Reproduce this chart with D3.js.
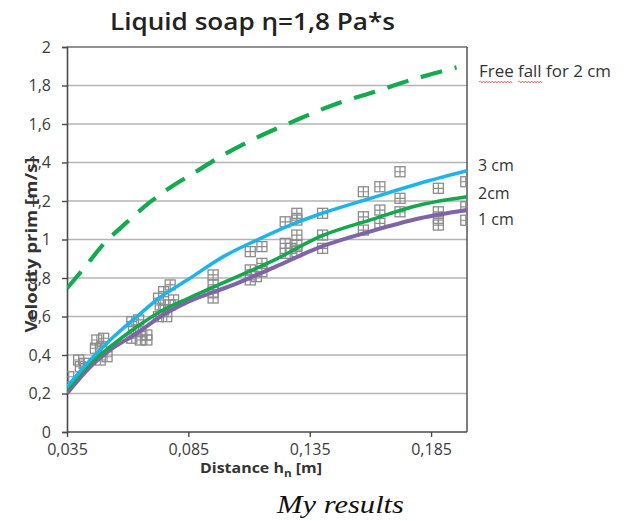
<!DOCTYPE html>
<html><head><meta charset="utf-8">
<script src="https://cdn.jsdelivr.net/npm/d3@7"></script>
<style>body{margin:0;background:#fff}svg{display:block}</style>
</head><body>
<script>
// ---- data ----
const xTicks = [0.035, 0.085, 0.135, 0.185];
const yTicks = [0, 0.2, 0.4, 0.6, 0.8, 1, 1.2, 1.4, 1.6, 1.8, 2];

const freeFallX = [0.035,0.0425,0.050,0.0597,0.0693,0.0775,0.0871,0.0981,0.110,0.128,0.1447,0.1619,0.179,0.1955];
const freeFallY = [0.746,0.859,0.975,1.09,1.195,1.270,1.344,1.43,1.51,1.612,1.699,1.768,1.837,1.894];

const cm3X = [0.035,0.0446,0.0528,0.0638,0.0734,0.085,0.0994,0.1132,0.127,0.142,0.1598,0.1804,0.1997];
const cm3Y = [0.235,0.374,0.478,0.600,0.700,0.793,0.911,0.997,1.075,1.144,1.213,1.292,1.357];

const cm2X = [0.035,0.0446,0.0528,0.0638,0.0734,0.085,0.1035,0.121,0.1392,0.1598,0.1804,0.1997];
const cm2Y = [0.218,0.357,0.443,0.547,0.625,0.695,0.798,0.897,1.015,1.101,1.179,1.222];

const cm1X = [0.035,0.0446,0.0528,0.0638,0.0734,0.085,0.1035,0.121,0.1392,0.1598,0.1804,0.1997];
const cm1Y = [0.200,0.339,0.426,0.513,0.599,0.677,0.764,0.859,0.960,1.041,1.110,1.153];

const markerX = [0.0357,0.0398,0.0421,0.0405,
  0.0473,0.0501,0.0467,0.0494,0.0515,0.0487,
  0.0617,0.0645,0.0624,0.0652,0.0679,0.0679,0.0652,0.0617,
  0.0775,0.0748,0.0727,0.0734,0.0748,0.0775,0.0789,0.0761,0.0727,
  0.0952,0.0952,0.0952,0.0952,
  0.1105,0.1153,0.1105,0.1105,0.1153,0.1153,0.1130,
  0.1249,0.1297,0.1297,0.1249,0.1249,0.1297,0.1297,0.1297,0.1273,
  0.1403,0.1403,0.1403,
  0.1571,0.1639,0.1722,0.1571,0.1571,0.1639,0.1639,0.1722,0.1722,
  0.1880,0.1880,0.1880,0.1880,
  0.1993,0.1993,0.1993];
const markerY = [0.287,0.374,0.357,0.339,
  0.478,0.487,0.435,0.443,0.391,0.374,
  0.573,0.582,0.530,0.521,0.504,0.478,0.478,0.487,
  0.764,0.729,0.695,0.660,0.634,0.660,0.686,0.599,0.599,
  0.816,0.764,0.727,0.696,
  0.937,0.963,0.842,0.790,0.876,0.833,0.807,
  1.092,1.136,1.101,0.980,0.928,1.023,0.971,0.937,0.954,
  1.136,1.023,0.954,
  1.248,1.274,1.352,1.118,1.049,1.153,1.084,1.214,1.144,
  1.266,1.144,1.110,1.075,
  1.300,1.170,1.100];

// ---- layout ----
const W = 625, H = 521;
const L = 67, R = 467, T = 47, B = 432;
const svg = d3.select("body").append("svg").attr("width", W).attr("height", H)
  .style("font-family", "'Open Sans', 'Noto Sans', sans-serif");

const x = d3.scaleLinear().domain([0.035, 0.1998]).range([L, R]);
const y = d3.scaleLinear().domain([0, 2]).range([B, T]);
const fmt = d => d3.format("")(d).replace(".", ",");

// gridlines
svg.append("g").selectAll("line").data(yTicks.filter(d => d > 0 && d < 2)).join("line")
  .attr("x1", L).attr("x2", R).attr("y1", d => y(d)).attr("y2", d => y(d))
  .attr("stroke", "#b4b4b4").attr("stroke-width", 1.5);

// border top & right
svg.append("line").attr("x1", L).attr("x2", R).attr("y1", y(2)).attr("y2", y(2))
  .attr("stroke", "#6e6e6e").attr("stroke-width", 1.5);
svg.append("line").attr("x1", R).attr("x2", R).attr("y1", T).attr("y2", B)
  .attr("stroke", "#555").attr("stroke-width", 1.5);

// axes
const yAxis = svg.append("g").attr("transform", `translate(${L},0)`)
  .call(d3.axisLeft(y).tickValues(yTicks).tickFormat(fmt).tickSize(5).tickPadding(11));
const xAxis = svg.append("g").attr("transform", `translate(0,${B})`)
  .call(d3.axisBottom(x).tickValues(xTicks).tickFormat(fmt).tickSize(5).tickPadding(7));
[yAxis, xAxis].forEach(g => {
  g.select(".domain").attr("stroke", "#4a4a4a").attr("stroke-width", 1.6);
  g.selectAll(".tick line").attr("stroke", "#4a4a4a").attr("stroke-width", 1.4);
  g.selectAll("text").attr("fill", "#3c3c3c").style("font-size", "16px")
    .style("font-family", "'Open Sans', sans-serif");
});
xAxis.select(".domain").attr("d", `M${L},0H${R}`);

// clip
svg.append("clipPath").attr("id", "clip").append("rect")
  .attr("x", L).attr("y", T - 5).attr("width", R - L).attr("height", B - T + 5);

const plot = svg.append("g").attr("clip-path", "url(#clip)");

// markers
const ms = 10;
const mk = plot.append("g").selectAll("g").data(markerX.map((d, i) => [d, markerY[i]])).join("g")
  .attr("transform", d => `translate(${x(d[0])},${y(d[1])})`);
mk.append("rect").attr("x", -ms/2).attr("y", -ms/2).attr("width", ms).attr("height", ms)
  .attr("fill", "none").attr("stroke", "#8c8c8c").attr("stroke-width", 1.3);
mk.append("path").attr("d", `M${-ms/2},0H${ms/2}M0,${-ms/2}V${ms/2}`)
  .attr("stroke", "#8c8c8c").attr("stroke-width", 1.2).attr("fill", "none");

// curves
const line = d3.line().x(d => x(d[0])).y(d => y(d[1])).curve(d3.curveMonotoneX);
const zip = (a, b) => a.map((d, i) => [d, b[i]]);
plot.append("path").datum(zip(cm1X, cm1Y)).attr("d", line)
  .attr("fill", "none").attr("stroke", "#8064a8").attr("stroke-width", 4);
plot.append("path").datum(zip(cm2X, cm2Y)).attr("d", line)
  .attr("fill", "none").attr("stroke", "#13a74e").attr("stroke-width", 3.5);
plot.append("path").datum(zip(cm3X, cm3Y)).attr("d", line)
  .attr("fill", "none").attr("stroke", "#1eb4ea").attr("stroke-width", 3.5);
plot.append("path").datum(zip(freeFallX, freeFallY)).attr("d", line)
  .attr("fill", "none").attr("stroke", "#14aa50").attr("stroke-width", 4.2)
  .attr("stroke-dasharray", "22,13");

// series labels
const lab = (t, xx, yy) => svg.append("text").attr("x", xx).attr("y", yy).text(t)
  .attr("fill", "#333").style("font-size", "16px");
lab("Free fall for 2 cm", 479, 77).attr("textLength", 132).attr("lengthAdjust", "spacingAndGlyphs");
lab("3 cm", 478, 171);
lab("2cm", 478, 199);
lab("1 cm", 478, 225);

// red wavy spell-check underlines
function wavy(x0, x1, yy) {
  const p = d3.path(); p.moveTo(x0, yy);
  let up = true;
  for (let xx = x0 + 1.5; xx <= x1; xx += 1.5) { p.lineTo(xx, yy + (up ? -1 : 1)); up = !up; }
  return p.toString();
}
svg.append("path").attr("d", wavy(479, 513, 82)).attr("fill", "none").attr("stroke", "#e05050").attr("stroke-width", 0.8);
svg.append("path").attr("d", wavy(518, 543, 82)).attr("fill", "none").attr("stroke", "#e05050").attr("stroke-width", 0.8);

// title
svg.append("text").attr("x", 110).attr("y", 30).text("Liquid soap η=1,8 Pa*s")
  .attr("fill", "#222").style("font-size", "24px").style("font-weight", "600")
  .attr("textLength", 285).attr("lengthAdjust", "spacingAndGlyphs");

// axis titles
const xt = svg.append("text").attr("x", 200).attr("y", 473)
  .attr("fill", "#333").style("font-size", "15px").style("font-weight", "bold")
  .attr("textLength", 122).attr("lengthAdjust", "spacingAndGlyphs");
xt.append("tspan").text("Distance h");
xt.append("tspan").text("n").attr("dy", 4).style("font-size", "11px");
xt.append("tspan").text(" [m]").attr("dy", -4);

svg.append("text").attr("transform", "translate(37,245) rotate(-90)")
  .attr("text-anchor", "middle").text("Velocity prim [m/s]")
  .attr("fill", "#333").style("font-size", "16px").style("font-weight", "bold")
  .attr("textLength", 175).attr("lengthAdjust", "spacingAndGlyphs");

// caption
svg.append("text").attr("x", 277).attr("y", 513).text("My results")
  .attr("fill", "#111").style("font-size", "26px").style("font-style", "italic")
  .style("font-family", "'Liberation Serif', 'DejaVu Serif', serif")
  .attr("textLength", 127).attr("lengthAdjust", "spacingAndGlyphs");
</script>
</body></html>
